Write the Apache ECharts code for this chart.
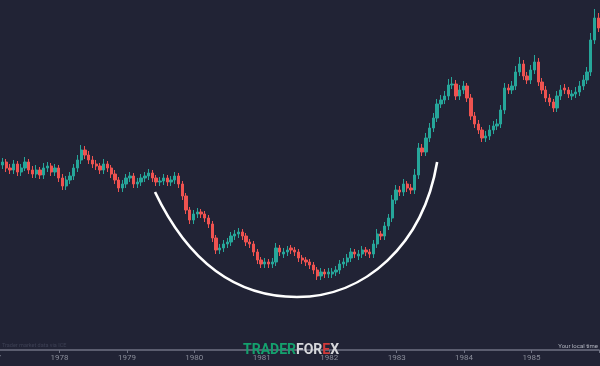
<!DOCTYPE html>
<html>
<head>
<meta charset="utf-8">
<script src="https://cdn.jsdelivr.net/npm/echarts@6/dist/echarts.min.js"></script>
<style>
html,body{margin:0;padding:0;background:#212335;}
#chart{width:600px;height:366px;}
</style>
</head>
<body>
<div id="chart"></div>
<script>
// Candle timing (decimal years): first candle and step (about 3 weeks)
const startYear = 1977.1;
const stepYear = 1 / 18;

const opens = [182,185,188,182,180,186,178,182,188,180,176,180,175,182,184,178,182,172,164,170,
174,182,190,200,195,190,186,184,180,186,182,176,170,162,166,172,174,166,168,172,
174,177,172,168,169,172,168,170,174,166,154,140,130,136,138,136,132,126,112,100,
102,106,108,114,116,118,114,108,106,98,90,86,88,86,88,102,96,98,102,100,
98,92,90,88,85,80,74,78,76,76,78,80,86,88,92,98,94,96,100,98,
96,106,116,114,124,132,150,160,158,166,162,160,175,202,198,212,222,232,246,250,
254,265,266,254,260,264,252,234,226,220,212,214,220,224,226,240,262,260,264,278,
286,274,270,280,288,268,260,252,248,242,254,262,260,254,256,258,264,270,278,310,332];

const closes = [185,188,182,180,186,178,182,188,180,176,180,175,182,184,178,182,172,164,170,174,
182,190,200,195,190,186,184,180,186,182,176,170,162,166,172,174,166,168,172,174,
177,172,168,169,172,168,170,174,166,154,140,130,136,138,136,132,126,112,100,102,
106,108,114,116,118,114,108,106,98,90,86,88,86,88,102,98,98,100,100,98,
92,90,88,85,80,74,78,76,78,78,80,86,88,92,98,96,96,100,98,96,
106,116,114,124,132,150,160,158,166,162,160,175,202,198,212,222,232,246,250,254,
265,266,254,260,264,252,234,226,220,212,214,220,224,226,240,262,260,264,278,286,
274,270,280,288,268,260,252,248,242,254,260,260,256,256,258,264,270,278,310,332,322];

const lows = [178,181,178,176,176,174,174,179,176,172,172,171,171,178,174,174,168,160,160,166,
170,178,186,191,186,182,180,176,176,178,172,166,158,158,162,168,162,162,164,168,
170,168,164,164,165,164,164,166,162,150,136,126,126,132,132,128,122,108,96,96,
98,102,104,110,112,110,104,102,94,86,82,82,82,82,84,94,92,94,96,94,
88,86,84,81,76,70,70,72,72,72,74,76,82,84,88,92,90,92,94,92,
92,102,110,110,120,128,146,154,154,158,156,156,171,194,194,208,218,228,242,246,
250,261,250,250,256,248,230,222,216,208,208,210,216,220,222,236,256,256,260,274,
270,266,266,276,264,256,248,244,238,238,250,256,252,250,252,254,260,266,274,306,318];

const highs = [189,192,191,186,190,189,186,193,191,184,185,183,187,188,187,186,185,176,174,178,
186,195,205,204,199,194,190,187,191,189,185,180,173,170,176,178,177,172,176,178,
181,180,175,173,176,175,174,178,177,169,157,143,140,142,141,139,135,129,115,106,
110,112,118,120,122,121,117,111,109,101,93,92,91,92,107,105,102,104,105,103,
101,95,93,91,88,83,82,81,82,82,84,90,92,96,102,101,100,104,103,101,
110,121,119,128,136,155,165,164,171,169,166,181,207,206,217,227,237,251,255,259,
271,273,270,265,269,267,256,238,230,223,219,225,229,231,245,267,266,269,284,293,
290,278,285,295,292,272,264,256,251,259,265,266,263,260,263,269,275,283,317,341,337];

// Hand-drawn U-shaped annotation arc: two cubic segments, anchors in data units [year, value]
const arcLeft  = [[1979.417,158],[1979.862,95],[1980.529,53],[1981.522,53]];
const arcRight = [[1981.522,53],[1982.530,53],[1983.393,105],[1983.600,188]];

const yearTicks = [1977,1978,1979,1980,1981,1982,1983,1984,1985];

const candles = closes.map((c, i) => [startYear + i * stepYear, opens[i], c, lows[i], highs[i]]);

const chart = echarts.init(document.getElementById('chart'), null, {renderer: 'canvas'});
chart.setOption({
  backgroundColor: '#212335',
  animation: false,
  grid: {left: -8, right: 1, top: 0, bottom: 16, containLabel: false, outerBoundsMode: 'none'},
  xAxis: {
    type: 'value', min: 1977, max: 1986, interval: 1,
    axisLine: {show: true, lineStyle: {color: '#6f7283', width: 1.5}},
    axisTick: {show: true, length: 3, lineStyle: {color: '#6f7283'}},
    splitLine: {show: false},
    axisLabel: {
      color: '#8a8d9a', fontSize: 8, margin: 4, fontFamily: 'Roboto',
      showMinLabel: true, showMaxLabel: true, hideOverlap: false,
      formatter: v => yearTicks.indexOf(v) >= 0 ? String(v) : ''
    }
  },
  yAxis: {type: 'value', min: 0, max: 350, show: false, splitLine: {show: false}},
  series: [
    {
      type: 'candlestick',
      data: candles,
      barWidth: 2.8,
      itemStyle: {
        color: '#26a69a', color0: '#ef5350',
        borderColor: '#26a69a', borderColor0: '#ef5350', borderWidth: 1
      },
      z: 2
    }
  ]
});

function toPx(p) { return chart.convertToPixel({gridIndex: 0}, p); }
function bez(pts) {
  const a = pts.map(toPx);
  return {
    type: 'bezierCurve',
    shape: {x1: a[0][0], y1: a[0][1], cpx1: a[1][0], cpy1: a[1][1], cpx2: a[2][0], cpy2: a[2][1], x2: a[3][0], y2: a[3][1]},
    style: {stroke: '#ffffff', lineWidth: 2.6, fill: null},
    z: 20
  };
}

chart.setOption({
  graphic: [
    bez(arcLeft),
    bez(arcRight),
    {
      type: 'text', left: 2, top: 343,
      style: {text: 'Trader market data via ICE', fill: '#3d4054', fontSize: 5.5, fontFamily: 'Roboto'}
    },
    {
      type: 'text', right: 2, top: 343,
      style: {text: 'Your local time', fill: '#b3b6c0', fontSize: 6, fontFamily: 'Roboto'}
    },
    {
      type: 'text', left: 243, top: 343,
      z: 30,
      style: {
        text: '{g|TRADER}{w|FOR}{e|E}{w|X}',
        rich: {
          g: {fill: '#14a06d', fontSize: 14, fontWeight: 'bold', fontFamily: 'Roboto'},
          w: {fill: '#d5d6da', fontSize: 14, fontWeight: 'bold', fontFamily: 'Roboto'},
          e: {fill: '#d23a3a', fontSize: 14, fontWeight: 'bold', fontFamily: 'Roboto'}
        }
      }
    }
  ]
});
</script>
</body>
</html>
